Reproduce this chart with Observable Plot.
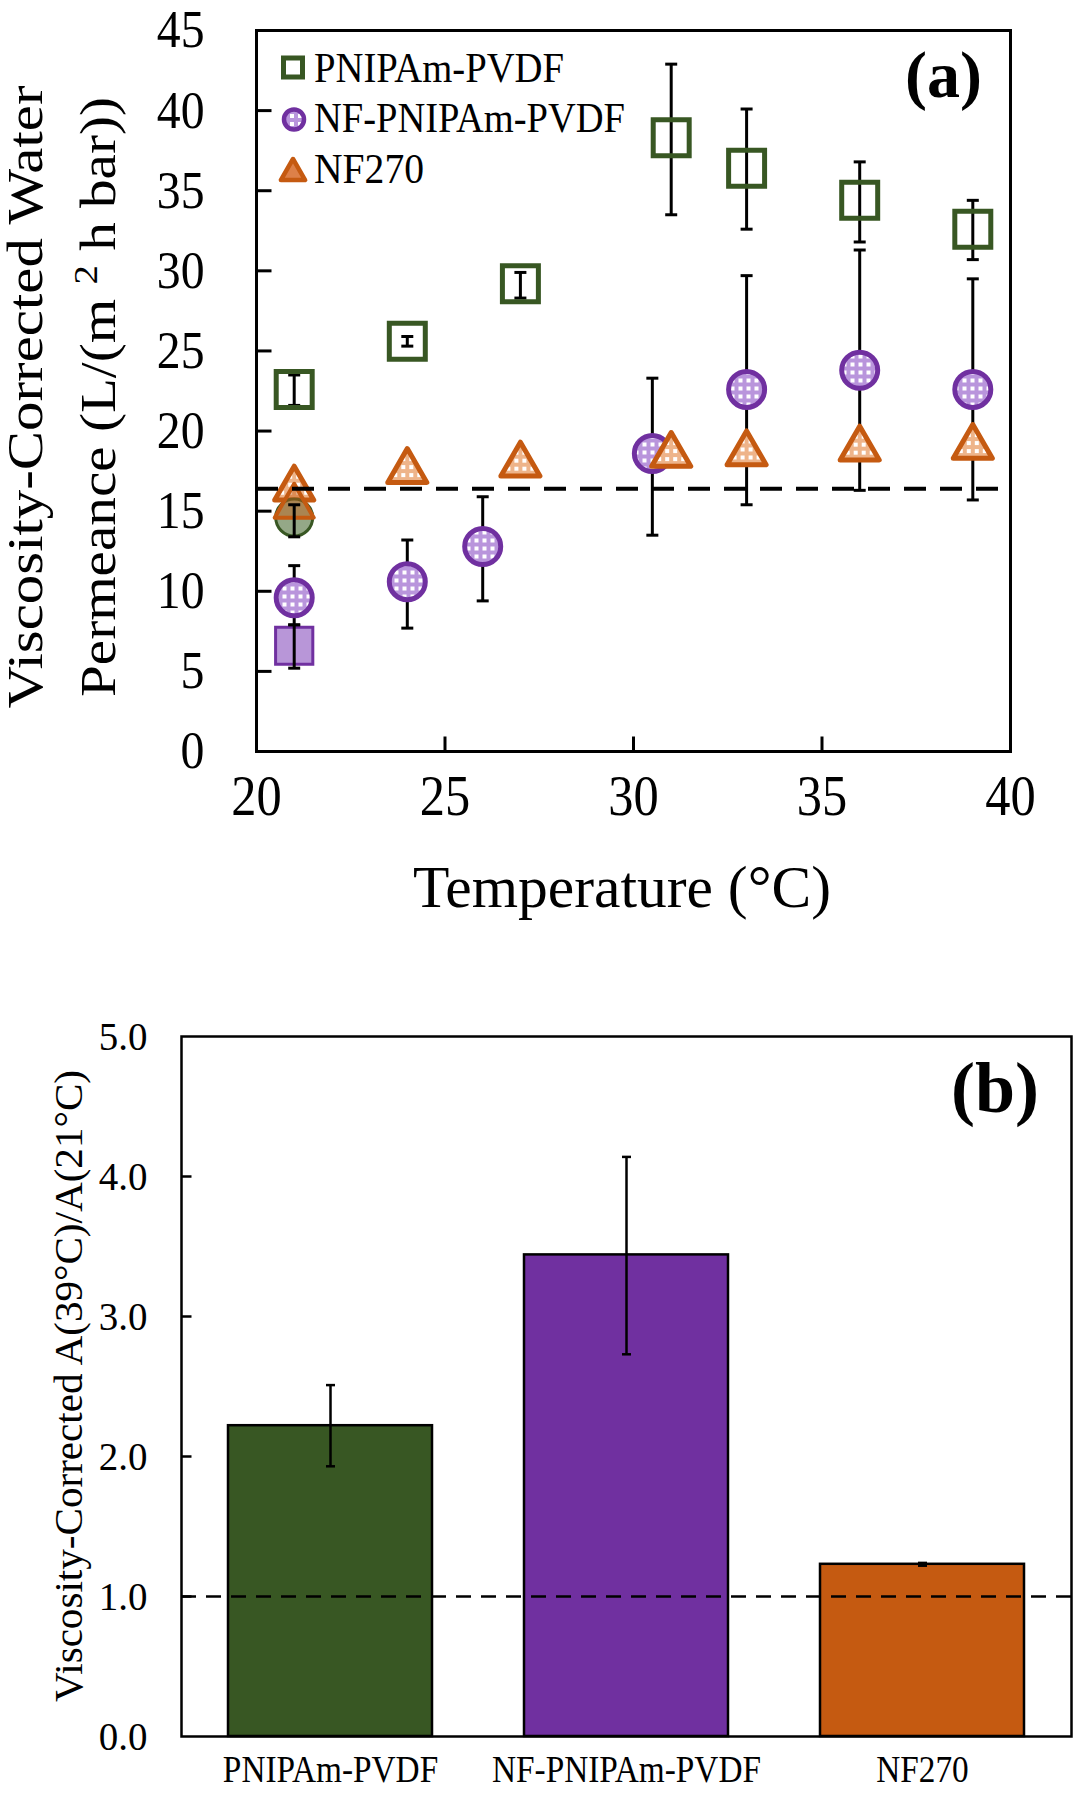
<!DOCTYPE html>
<html>
<head>
<meta charset="utf-8">
<script src="https://cdn.jsdelivr.net/npm/d3@7"></script>
<script src="https://cdn.jsdelivr.net/npm/@observablehq/plot@0.6"></script>
<style>
  html, body { margin: 0; padding: 0; background: #fff; overflow: hidden; }
  #chart svg { display: block; }
</style>
</head>
<body>
<div id="chart"></div>
<script>
// ---------------- Panel (a) data ----------------
const pnipamTemp = [21, 24, 27, 31, 33, 36, 39];
const pnipamVal  = [22.6, 25.6, 29.2, 38.3, 36.4, 34.4, 32.6];
const pnipamLo   = [21.6, 25.3, 28.3, 33.5, 32.6, 31.8, 30.7];
const pnipamHi   = [23.5, 25.9, 29.9, 42.9, 40.1, 36.8, 34.4];

const nfpTemp = [21, 24, 26, 30.5, 33, 36, 39];
const nfpVal  = [9.6, 10.6, 12.8, 18.6, 22.6, 23.8, 22.6];
const nfpLo   = [7.9, 7.7, 9.4, 13.5, 15.4, 16.3, 15.7];
const nfpHi   = [11.6, 13.2, 15.9, 23.3, 29.7, 31.3, 29.5];

const nf270Temp = [21, 24, 27, 31, 33, 36, 39];
const nf270Val  = [16.4, 17.5, 17.9, 18.5, 18.6, 18.9, 19.0];

// filled (unlabelled) markers at 21 °C
const filledTemp = 21;
const filledPnipamVal = 14.6, filledPnipamLo = 13.4, filledPnipamHi = 15.4;
const filledNf270Val = 15.3;
const filledNfpVal = 6.6, filledNfpLo = 5.2, filledNfpHi = 7.9;

const refLineA = 16.4;
const xTicksA = [20, 25, 30, 35, 40];
const yTicksA = [0, 5, 10, 15, 20, 25, 30, 35, 40, 45];

// ---------------- Panel (b) data ----------------
const bCats = ["PNIPAm-PVDF", "NF-PNIPAm-PVDF", "NF270"];
const bVal  = [2.22, 3.44, 1.23];
const bLo   = [1.93, 2.73, 1.22];
const bHi   = [2.51, 4.14, 1.24];
const refLineB = 1.0;
const yTicksB = [0, 1, 2, 3, 4, 5];

// ---------------- styles ----------------
const FONT = "'Liberation Serif', 'Times New Roman', Times, serif";
const GREEN = "#385723", PURPLE = "#7030a0", ORANGE = "#c55a11";
const PURPLE_FILL = "#c7a8e2", ORANGE_FILL = "#f1c7a8";

const capSym = (w) => ({ draw(ctx) { ctx.moveTo(-w / 2, 0); ctx.lineTo(w / 2, 0); } });
const tickRight = (L) => ({ draw(ctx) { ctx.moveTo(0, 0); ctx.lineTo(L, 0); } });
const tickUp = (L) => ({ draw(ctx) { ctx.moveTo(0, 0); ctx.lineTo(0, -L); } });

function errorBars(xs, lo, hi, opts) {
  const sw = opts.strokeWidth, cap = opts.cap;
  return [
    Plot.ruleX(xs, { x: d => d, y1: (d, i) => lo[i], y2: (d, i) => hi[i], stroke: "black", strokeWidth: sw }),
    Plot.dot(xs, { x: d => d, y: (d, i) => lo[i], symbol: capSym(cap), r: 1, fill: "none", stroke: "black", strokeWidth: sw }),
    Plot.dot(xs, { x: d => d, y: (d, i) => hi[i], symbol: capSym(cap), r: 1, fill: "none", stroke: "black", strokeWidth: sw })
  ];
}

// ---------------- Panel (a) ----------------
const plotA = Plot.plot({
  width: 1080, height: 960,
  marginTop: 30, marginBottom: 209, marginLeft: 256, marginRight: 70,
  x: { domain: [20, 40], axis: null },
  y: { domain: [0, 45], axis: null },
  style: { fontFamily: FONT, background: "white", color: "black", overflow: "visible" },
  marks: [
    ...errorBars(nfpTemp, nfpLo, nfpHi, { strokeWidth: 3, cap: 12 }),
    ...errorBars(pnipamTemp, pnipamLo, pnipamHi, { strokeWidth: 3, cap: 12 }),
    Plot.dot(pnipamTemp, { x: d => d, y: (d, i) => pnipamVal[i], symbol: "square", r: 20.3,
      fill: "none", stroke: GREEN, strokeWidth: 5 }),
    Plot.dot(nfpTemp, { x: d => d, y: (d, i) => nfpVal[i], symbol: "circle", r: 18,
      fill: PURPLE_FILL, stroke: PURPLE, strokeWidth: 5 }),
    Plot.dot(nf270Temp, { x: d => d, y: (d, i) => nf270Val[i], symbol: "triangle", r: 14.5,
      fill: ORANGE_FILL, stroke: ORANGE, strokeWidth: 5, strokeLinejoin: "round" }),
    // filled markers at 21 °C
    Plot.dot([filledTemp], { x: d => d, y: filledPnipamVal, symbol: "circle", r: 18.5,
      fill: "#94a887", stroke: GREEN, strokeWidth: 3 }),
    Plot.dot([filledTemp], { x: d => d, y: filledNf270Val, symbol: "triangle", r: 14.5,
      fill: ORANGE, fillOpacity: 0.45, stroke: ORANGE, strokeWidth: 4, strokeLinejoin: "round" }),
    Plot.dot([filledTemp], { x: d => d, y: filledNfpVal, symbol: "square", r: 21,
      fill: "#b896d8", stroke: PURPLE, strokeWidth: 3 }),
    ...errorBars([filledTemp], [filledPnipamLo], [filledPnipamHi], { strokeWidth: 3, cap: 12 }),
    ...errorBars([filledTemp], [filledNfpLo], [filledNfpHi], { strokeWidth: 3, cap: 12 }),
    // dashed reference line
    Plot.ruleY([refLineA], { stroke: "black", strokeWidth: 4, strokeDasharray: "22,14" }),
    // inward ticks
    Plot.dot(yTicksA.slice(1, -1), { y: d => d, frameAnchor: "left", symbol: tickRight(15), r: 1,
      fill: "none", stroke: "black", strokeWidth: 3 }),
    Plot.dot(xTicksA.slice(1, -1), { x: d => d, frameAnchor: "bottom", symbol: tickUp(15), r: 1,
      fill: "none", stroke: "black", strokeWidth: 3 }),
    // tick labels
    Plot.text(yTicksA, { y: d => d, text: d => String(d), frameAnchor: "left", textAnchor: "end",
      dx: -52, fontSize: 53, fill: "black" }),
    Plot.text(xTicksA, { x: d => d, text: d => String(d), frameAnchor: "bottom", dy: 63,
      fontSize: 56, fill: "black" }),
    Plot.frame({ stroke: "black", strokeWidth: 3 })
  ]
});

// ---------------- Panel (b) ----------------
const plotB = Plot.plot({
  width: 1080, height: 840,
  marginTop: 76, marginBottom: 64, marginLeft: 181, marginRight: 9,
  x: { type: "band", domain: bCats, paddingInner: 0.31, paddingOuter: 0.155, axis: null },
  y: { domain: [0, 5], axis: null },
  color: { domain: bCats, range: [GREEN, PURPLE, ORANGE] },
  style: { fontFamily: FONT, background: "white", color: "black", overflow: "visible" },
  marks: [
    Plot.barY(bCats, { x: d => d, y: (d, i) => bVal[i], fill: d => d, stroke: "black", strokeWidth: 2.5 }),
    Plot.ruleY([refLineB], { stroke: "black", strokeWidth: 2.5, strokeDasharray: "15,10" }),
    Plot.ruleX(bCats, { x: d => d, y1: (d, i) => bLo[i], y2: (d, i) => bHi[i], stroke: "black", strokeWidth: 2.5 }),
    Plot.dot(bCats, { x: d => d, y: (d, i) => bLo[i], symbol: capSym(9), r: 1, fill: "none", stroke: "black", strokeWidth: 2.5 }),
    Plot.dot(bCats, { x: d => d, y: (d, i) => bHi[i], symbol: capSym(9), r: 1, fill: "none", stroke: "black", strokeWidth: 2.5 }),
    Plot.dot(yTicksB.slice(1, -1), { y: d => d, frameAnchor: "left", symbol: tickRight(10), r: 1,
      fill: "none", stroke: "black", strokeWidth: 2.5 }),
    Plot.text(yTicksB, { y: d => d, text: d => d.toFixed(1), frameAnchor: "left", textAnchor: "end",
      dx: -34, fontSize: 41, fill: "black" }),
    Plot.text(bCats, { x: d => d, text: d => d, frameAnchor: "bottom", dy: 45, fontSize: 37, fill: "black" }),
    Plot.frame({ stroke: "black", strokeWidth: 2.5 })
  ]
});

const chart = document.getElementById("chart");
chart.appendChild(plotA);
chart.appendChild(plotB);

// condense tick-label glyphs slightly (the reference typeface is narrow)
function condense(svg, factors) {
  d3.select(svg).selectAll('g[aria-label="text"]').each(function (_, gi) {
    const f = factors[gi];
    if (!f || f === 1) return;
    d3.select(this).selectAll("text").each(function () {
      const L = this.getComputedTextLength();
      if (L > 0) {
        this.setAttribute("textLength", (L * f).toFixed(1));
        this.setAttribute("lengthAdjust", "spacingAndGlyphs");
      }
    });
  });
}
condense(plotA, [0.9, 0.9]);
condense(plotB, [0.95, 0.9]);

// ---------------- fill patterns (checkered marker interiors) ----------------
function addPattern(svg, id, bg) {
  const defs = d3.select(svg).insert("defs", ":first-child");
  const p = defs.append("pattern").attr("id", id).attr("patternUnits", "userSpaceOnUse")
    .attr("width", 8).attr("height", 8);
  p.append("rect").attr("width", 8).attr("height", 8).attr("fill", bg);
  p.append("rect").attr("x", 2).attr("y", 2).attr("width", 4).attr("height", 4).attr("fill", "white");
}
addPattern(plotA, "patCircle", "#b995dc");
addPattern(plotA, "patTriangle", "#eeb48a");
const sa = d3.select(plotA);
sa.selectAll(`[fill="${PURPLE_FILL}"]`).attr("fill", "url(#patCircle)");
sa.selectAll(`[fill="${ORANGE_FILL}"]`).attr("fill", "url(#patTriangle)");

// ---------------- annotations, titles and legend ----------------
function addText(svg, { x, y, text, size, anchor = "start", weight = "normal", rotate = 0, length = null }) {
  const t = d3.select(svg).append("text")
    .attr("transform", `translate(${x},${y})` + (rotate ? ` rotate(${rotate})` : ""))
    .attr("font-family", FONT).attr("font-size", size).attr("font-weight", weight)
    .attr("text-anchor", anchor).attr("fill", "black");
  if (Array.isArray(text)) {
    for (const part of text) {
      const ts = t.append("tspan").text(part.t);
      if (part.dy) ts.attr("dy", part.dy);
      if (part.size) ts.attr("font-size", part.size);
    }
  } else t.text(text);
  if (length) t.attr("textLength", length).attr("lengthAdjust", "spacingAndGlyphs");
  return t;
}

// y-axis title (two lines)
addText(plotA, { x: 42, y: 397, text: "Viscosity-Corrected Water", size: 50, anchor: "middle", rotate: -90, length: 623 });
addText(plotA, { x: 115, y: 397, size: 50, anchor: "middle", rotate: -90, length: 600,
  text: [{ t: "Permeance (L/(m " }, { t: "2", dy: -18, size: 34 }, { t: " h bar))", dy: 18 }] });
// x-axis title
addText(plotA, { x: 622, y: 907, text: "Temperature (°C)", size: 60, anchor: "middle", length: 418 });
// panel label
addText(plotA, { x: 982, y: 97, text: "(a)", size: 66, anchor: "end", weight: "bold" });

// legend
sa.append("path").attr("transform", "translate(293,67.5)")
  .attr("d", d3.symbol(d3.symbolSquare, 19 * 19)())
  .attr("fill", "white").attr("stroke", GREEN).attr("stroke-width", 5);
sa.append("circle").attr("cx", 294).attr("cy", 119.5).attr("r", 10)
  .attr("fill", "url(#patCircle)").attr("stroke", PURPLE).attr("stroke-width", 4.5);
sa.append("path").attr("transform", "translate(293,173)")
  .attr("d", d3.symbol(d3.symbolTriangle, 255)())
  .attr("fill", "#dd8048").attr("stroke", ORANGE).attr("stroke-width", 4.5).attr("stroke-linejoin", "round");
addText(plotA, { x: 314, y: 82, text: "PNIPAm-PVDF", size: 42, length: 250 });
addText(plotA, { x: 314, y: 132, text: "NF-PNIPAm-PVDF", size: 42, length: 311 });
addText(plotA, { x: 314, y: 183, text: "NF270", size: 42, length: 110 });

// panel (b) titles
addText(plotB, { x: 82, y: 426, text: "Viscosity-Corrected A(39°C)/A(21°C)", size: 41, anchor: "middle", rotate: -90, length: 632 });
addText(plotB, { x: 1039, y: 152, text: "(b)", size: 72, anchor: "end", weight: "bold" });
</script>
</body>
</html>
